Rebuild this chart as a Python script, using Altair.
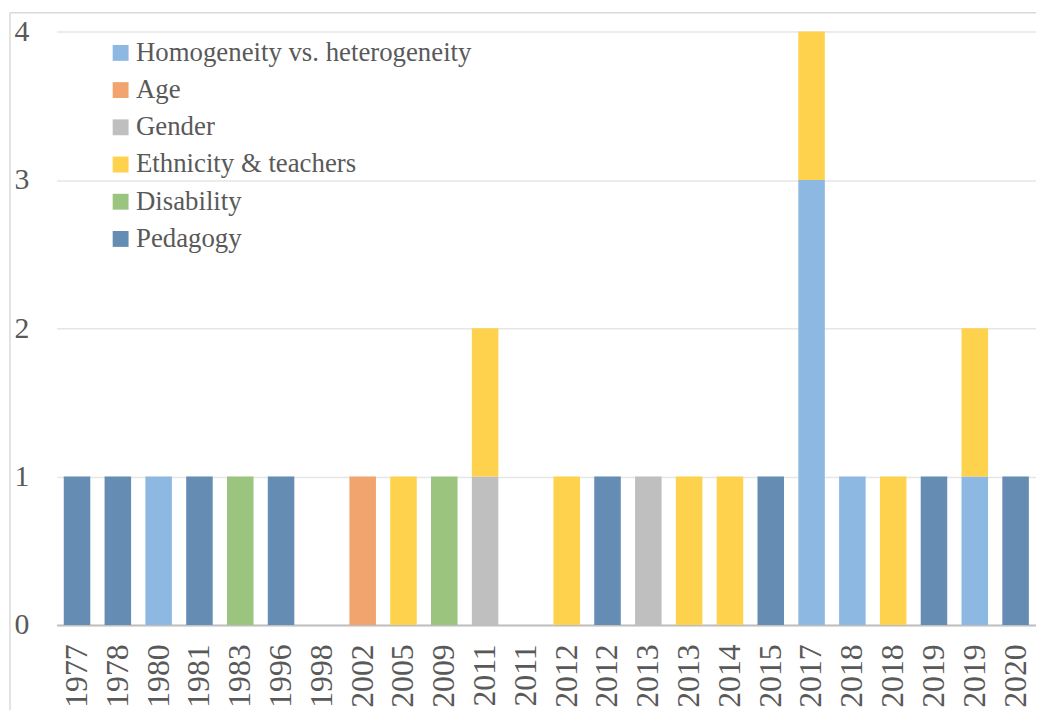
import altair as alt
import pandas as pd

years = ["1977", "1978", "1980", "1981", "1983", "1996", "1998", "2002", "2005", "2009",
         "2011", "2011", "2012", "2012", "2013", "2013", "2014", "2015", "2017", "2018",
         "2018", "2019", "2019", "2020"]

categories = ["Homogeneity vs. heterogeneity", "Age", "Gender", "Ethnicity & teachers",
              "Disability", "Pedagogy"]
colors = ["#8DB8E1", "#F2A46E", "#BFBFBF", "#FFD24D", "#9BC47E", "#658CB3"]

homogeneity = [0, 0, 1, 0, 0, 0, 0, 0, 0, 0, 0, 0, 0, 0, 0, 0, 0, 0, 3, 1, 0, 0, 1, 0]
age         = [0, 0, 0, 0, 0, 0, 0, 1, 0, 0, 0, 0, 0, 0, 0, 0, 0, 0, 0, 0, 0, 0, 0, 0]
gender      = [0, 0, 0, 0, 0, 0, 0, 0, 0, 0, 1, 0, 0, 0, 1, 0, 0, 0, 0, 0, 0, 0, 0, 0]
ethnicity   = [0, 0, 0, 0, 0, 0, 0, 0, 1, 0, 1, 0, 1, 0, 0, 1, 1, 0, 1, 0, 1, 0, 1, 0]
disability  = [0, 0, 0, 0, 1, 0, 0, 0, 0, 1, 0, 0, 0, 0, 0, 0, 0, 0, 0, 0, 0, 0, 0, 0]
pedagogy    = [1, 1, 0, 1, 0, 1, 0, 0, 0, 0, 0, 0, 0, 1, 0, 0, 0, 1, 0, 0, 0, 1, 0, 1]

series = [homogeneity, age, gender, ethnicity, disability, pedagogy]

rows = []
for ci, (cat, vals) in enumerate(zip(categories, series)):
    for i, v in enumerate(vals):
        if v > 0:
            rows.append({"idx": i, "category": cat, "order": ci, "value": v})
df = pd.DataFrame(rows)

FONT = "Liberation Serif"
TXT = "#595959"

label_expr = "[" + ",".join("'%s'" % y for y in years) + "][datum.value]"

W, H = 987, 598

bars = alt.Chart(df).mark_bar().encode(
    x=alt.X("idx:O",
            scale=alt.Scale(domain=list(range(len(years))), paddingInner=0.35, paddingOuter=0.175),
            axis=alt.Axis(title=None, labelExpr=label_expr, labelAngle=270, labelFontSize=32,
                          labelFont=FONT, labelColor=TXT, ticks=False, labelPadding=19,
                          domainColor="#BFBFBF", domainWidth=2, grid=False)),
    y=alt.Y("value:Q", stack="zero",
            scale=alt.Scale(domain=[0, 4], nice=False),
            axis=alt.Axis(title=None, values=[0, 1, 2, 3, 4], format="d", labelFontSize=30,
                          labelFont=FONT, labelColor=TXT, ticks=False, domain=False,
                          labelPadding=28, gridColor="#E6E6E6", gridWidth=1.5)),
    color=alt.Color("category:N",
                    scale=alt.Scale(domain=categories, range=colors),
                    legend=alt.Legend(title=None, orient="none", legendX=51, legendY=8,
                                      symbolType="square", symbolSize=256, symbolStrokeWidth=0,
                                      labelFontSize=27, labelFont=FONT, labelColor=TXT,
                                      labelOffset=2, rowPadding=9.5, padding=0,
                                      labelLimit=600)),
    order=alt.Order("order:Q", sort="ascending"),
)

frame_data = alt.Data(values=[{"a": 1}])
frame_top = alt.Chart(frame_data).mark_rule(color="#D9D9D9", strokeWidth=1.5).encode(
    x=alt.value(-47), x2=alt.value(W + 10), y=alt.value(-19))
frame_left = alt.Chart(frame_data).mark_rule(color="#D9D9D9", strokeWidth=1.5).encode(
    x=alt.value(-47), y=alt.value(-19), y2=alt.value(H + 86))

chart = alt.layer(frame_top, frame_left, bars).properties(
    width=W, height=H,
    autosize=alt.AutoSizeParams(type="none"),
    padding={"left": 49, "top": 21, "right": 0, "bottom": 86},
).configure(background="white").configure_view(stroke=None)

chart.save("out.html", embed_options={"renderer": "svg", "actions": False})
